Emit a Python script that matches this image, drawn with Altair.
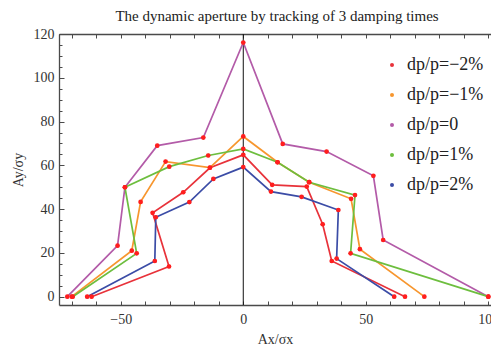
import altair as alt
import pandas as pd

# Momentum-deviation cases and their colours
series_names = ["dp/p=−2%", "dp/p=−1%", "dp/p=0", "dp/p=1%", "dp/p=2%"]
line_colors = ["#E8323A", "#F7962E", "#B35BA8", "#6DBE3E", "#3B4CA6"]

# Aperture boundary points (Ax/σx, Ay/σy) for each case, left to right along the path
ax_m2 = [-61.9, -30.3, -37.0, -24.5, -13.6, 0.0, 11.8, 25.9, 32.4, 36.1, 66.0]
ay_m2 = [0.0, 13.8, 38.3, 47.7, 58.9, 64.8, 51.1, 50.3, 33.1, 16.3, 0.0]

ax_m1 = [-70.0, -45.5, -41.9, -31.7, -13.6, 0.0, 14.0, 26.9, 44.0, 47.6, 73.9]
ay_m1 = [0.0, 21.0, 43.3, 61.7, 59.0, 73.2, 61.4, 52.3, 44.7, 21.7, 0.0]

ax_0 = [-71.8, -51.3, -48.3, -35.1, -16.3, 0.0, 16.1, 34.0, 53.1, 57.1, 100.0]
ay_0 = [0.0, 23.3, 50.0, 69.0, 72.7, 116.1, 69.8, 66.3, 55.2, 25.9, 0.0]

ax_p1 = [-69.6, -43.5, -48.3, -30.2, -14.3, 0.0, 14.0, 26.9, 45.6, 43.8, 100.0]
ay_p1 = [0.0, 19.8, 50.0, 59.4, 64.5, 67.5, 61.4, 52.3, 46.4, 19.8, 0.0]

ax_p2 = [-63.7, -36.1, -35.7, -22.0, -12.2, 0.0, 11.3, 23.8, 38.8, 38.1, 61.6]
ay_p2 = [0.0, 16.3, 36.3, 43.2, 53.8, 59.2, 48.0, 45.6, 39.6, 17.4, 0.0]

x_all = [ax_m2, ax_m1, ax_0, ax_p1, ax_p2]
y_all = [ay_m2, ay_m1, ay_0, ay_p1, ay_p2]

rows = []
for name, xs, ys in zip(series_names, x_all, y_all):
    for i, (x, y) in enumerate(zip(xs, ys)):
        rows.append({"series": name, "curve": name, "idx": i, "ax": x, "ay": y})
df = pd.DataFrame(rows)
origin = pd.DataFrame({"x0": [0.0]})

x_label_values = [-50, 0, 50, 100]
x_tick_values = list(range(-70, 101, 10))
y_label_values = list(range(0, 121, 20))
y_minor_values = list(range(0, 121, 5))

SERIF = "Liberation Serif"
FRAME = "#4a4a4a"
W, H = 432, 271

xscale = alt.Scale(domain=[-75.2, 101.1], nice=False, zero=False)
yscale = alt.Scale(domain=[-3.8, 120], nice=False, zero=False)


def inner_ticks(orient, values, size):
    # tick-only axis pulled inside the frame so ticks point inward
    return alt.Axis(orient=orient, values=values, domain=False, labels=False,
                    ticks=True, tickSize=size, tickColor=FRAME, tickWidth=1,
                    offset=-size, grid=False, title=None)


# The line colours use their own stroke scale (domain listed in reverse so it is
# not merged with the legend's colour scale); the legend shows only the dot keys.
lines = alt.Chart(df).mark_line(strokeWidth=1.7).encode(
    x=alt.X("ax:Q", scale=xscale, axis=alt.Axis(
        orient="bottom", values=x_label_values, ticks=False, tickSize=0,
        domain=True, domainColor=FRAME, domainWidth=1.3, grid=False,
        labelFont=SERIF, labelFontSize=14, labelColor="#333", labelPadding=7,
        labelFlush=False, labelOverlap=False,
        title="Ax/σx", titleFont=SERIF, titleFontSize=14,
        titleFontWeight="normal", titleColor="#333", titlePadding=6)),
    y=alt.Y("ay:Q", scale=yscale, axis=alt.Axis(
        orient="left", values=y_label_values, ticks=False, tickSize=0,
        domain=True, domainColor=FRAME, domainWidth=1.3, grid=False,
        labelFont=SERIF, labelFontSize=14, labelColor="#333", labelPadding=5,
        labelFlush=False, labelOverlap=False,
        title="Ay/σy", titleFont=SERIF, titleFontSize=14,
        titleFontWeight="normal", titleColor="#333", titlePadding=8)),
    stroke=alt.Stroke("curve:N",
                      scale=alt.Scale(domain=series_names[::-1], range=line_colors[::-1]),
                      legend=None),
    detail="curve:N",
    order="idx:Q",
)

keys = alt.Chart(df).mark_circle(size=14, opacity=1).encode(
    x=alt.X("ax:Q", scale=xscale, axis=inner_ticks("top", x_tick_values, 4)),
    y=alt.Y("ay:Q", scale=yscale, axis=inner_ticks("left", y_minor_values, 3)),
    color=alt.Color("series:N", scale=alt.Scale(domain=series_names, range=line_colors),
                    legend=alt.Legend(
                        orient="none", legendX=324, legendY=22, title=None,
                        direction="vertical",
                        symbolType="circle", symbolSize=16, symbolStrokeWidth=0,
                        labelFont=SERIF, labelFontSize=18, labelColor="#222",
                        labelOffset=6, rowPadding=12, padding=0)),
)

points = alt.Chart(df).mark_circle(size=22, color="#FF1E1E", opacity=1).encode(
    x=alt.X("ax:Q", scale=xscale, axis=alt.Axis(
        orient="top", domain=True, domainColor=FRAME, domainWidth=1.3,
        ticks=False, labels=False, grid=False, title=None)),
    y=alt.Y("ay:Q", scale=yscale, axis=inner_ticks("left", y_label_values, 5)),
)

zero_line = alt.Chart(origin).mark_rule(color="#111", strokeWidth=1).encode(
    x=alt.X("x0:Q", scale=xscale, axis=inner_ticks("bottom", x_tick_values, 4)),
)

chart = alt.layer(zero_line, lines, keys, points).resolve_axis(
    x="independent", y="independent"
).properties(
    width=W, height=H,
    title=alt.TitleParams(
        "The dynamic aperture by tracking of 3 damping times",
        font=SERIF, fontSize=15, fontWeight="normal", color="#222",
        anchor="middle", baseline="alphabetic", offset=12, dx=2, dy=21),
    autosize=alt.AutoSizeParams(type="none"),
    padding={"left": 59, "top": 34, "right": 0, "bottom": 40},
    background="white",
).configure_view(stroke=None)

chart.save("out.html", embed_options={"renderer": "svg", "actions": False})
